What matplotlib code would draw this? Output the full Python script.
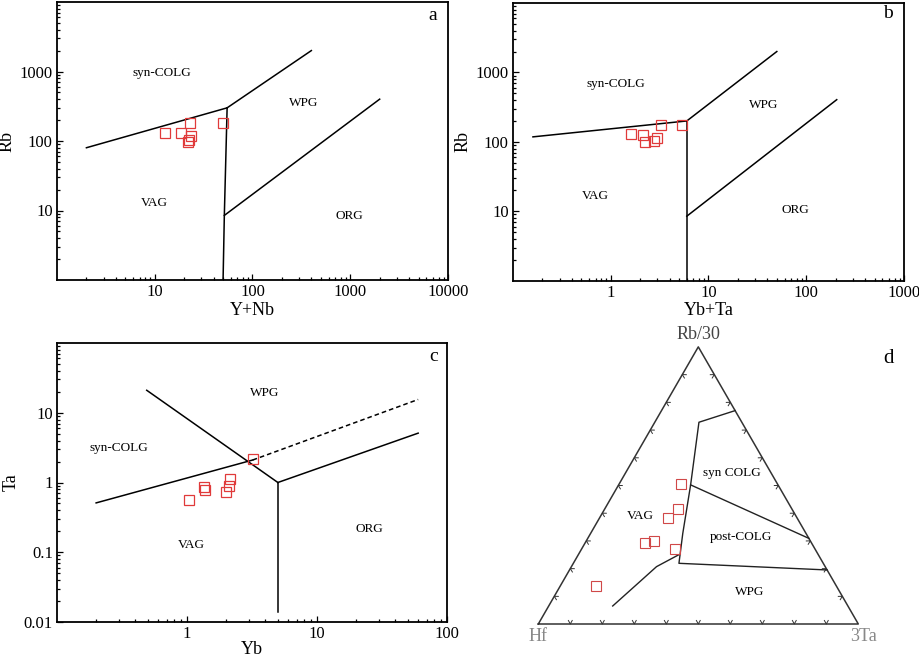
import numpy as np
import matplotlib
matplotlib.use("Agg")
import matplotlib.pyplot as plt
from matplotlib.ticker import FixedLocator, FuncFormatter, LogLocator, NullFormatter

plt.rcParams['font.family'] = ['Liberation Serif', 'DejaVu Serif']

# ---- panel a: Rb vs Y+Nb
a_x = [12.8, 18.7, 23.1, 23.7, 21.9, 22.5, 49.4]
a_y = [131, 129, 179, 118, 98, 103, 179]
a_lines = [
    ([2, 55], [80, 300]),
    ([55, 400], [300, 2000]),
    ([55, 51.5, 50], [300, 8.5, 1]),
    ([51.5, 2000], [8.5, 400]),
]

# ---- panel b: Rb vs Yb+Ta
b_x = [1.6, 2.15, 3.26, 2.99, 2.24, 2.77, 5.4]
b_y = [131, 127, 173, 115, 98, 102, 177]
b_lines = [
    ([0.16, 6], [118, 200]),
    ([6, 50], [200, 2000]),
    ([6, 6], [200, 1]),
    ([6, 205], [8.5, 405]),
]

# ---- panel c: Ta vs Yb
c_x = [1.04, 1.35, 1.38, 2.01, 2.11, 2.16, 3.23]
c_y = [0.56, 0.875, 0.78, 0.72, 0.9, 1.12, 2.17]
c_lines = [
    ([0.2, 3.2], [0.51, 2.1]),
    ([0.49, 5], [21, 1]),
    ([5, 5], [1, 0.014]),
    ([5, 60], [1, 5.1]),
]
c_dashed = ([3.2, 60], [2.1, 15.5])

# ---- panel d: Hf - Rb/30 - 3Ta ternary (fractions)
d_hf = [0.302, 0.358, 0.403, 0.519, 0.488, 0.439, 0.751]
d_rb = [0.505, 0.414, 0.381, 0.294, 0.301, 0.269, 0.137]
d_ta = [0.193, 0.228, 0.216, 0.187, 0.211, 0.292, 0.112]
d_lines = [
    # (hf, rb, ta) vertices of each boundary
    [(0.0, 0.770, 0.230), (0.134, 0.728, 0.138), (0.273, 0.502, 0.225),
     (0.385, 0.327, 0.288), (0.451, 0.219, 0.330), (0.0, 0.195, 0.805)],
    [(0.273, 0.502, 0.225), (0.0, 0.309, 0.691)],
    [(0.735, 0.065, 0.200), (0.606, 0.153, 0.241), (0.527, 0.207, 0.266),
     (0.438, 0.249, 0.313)],
]

red = '#e03a3a'
mk = dict(marker='s', ms=7, mfc='none', mec=red, mew=0.9, ls='none')
fs_tick = 12
fs_lab = 13
fs_reg = 9.5


def style_log(ax, xlim, ylim, xmaj, ymaj):
    ax.set_xscale('log')
    ax.set_yscale('log')
    ax.set_xlim(*xlim)
    ax.set_ylim(*ylim)
    fmt = FuncFormatter(lambda v, p: ('%g' % v))
    ax.xaxis.set_major_locator(FixedLocator(xmaj))
    ax.yaxis.set_major_locator(FixedLocator(ymaj))
    ax.xaxis.set_major_formatter(fmt)
    ax.yaxis.set_major_formatter(fmt)
    ax.xaxis.set_minor_locator(LogLocator(subs=np.arange(2, 10)))
    ax.yaxis.set_minor_locator(LogLocator(subs=np.arange(2, 10)))
    ax.xaxis.set_minor_formatter(NullFormatter())
    ax.yaxis.set_minor_formatter(NullFormatter())
    ax.tick_params(which='both', direction='in', top=False, right=False,
                   labelsize=fs_tick, width=0.9)
    ax.tick_params(which='major', length=4.5, pad=3)
    ax.tick_params(which='minor', length=2.5)
    for s in ax.spines.values():
        s.set_linewidth(1.3)


fig = plt.figure(figsize=(9.2, 6.57), dpi=100)

# panel a
ax = fig.add_axes([57/920, 1-280/657, 391/920, 278/657])
style_log(ax, (1, 10000), (1, 10000), [10, 100, 1000, 10000], [10, 100, 1000])
for xs, ys in a_lines:
    ax.plot(xs, ys, color='black', lw=1.1)
ax.plot(a_x, a_y, **mk)
ax.set_xlabel('Y+Nb', fontsize=fs_lab, labelpad=1)
ax.set_ylabel('Rb', fontsize=fs_lab, labelpad=3)
for t, x, y in [('syn-COLG', 0.269, 0.746), ('WPG', 0.630, 0.636),
                ('VAG', 0.248, 0.276), ('ORG', 0.747, 0.230)]:
    ax.text(x, y, t, transform=ax.transAxes, fontsize=fs_reg, ha='center', va='center')
ax.text(0.962, 0.953, 'a', transform=ax.transAxes, fontsize=14, ha='center', va='center')

# panel b
ax = fig.add_axes([513/920, 1-280.7/657, 391/920, 277.7/657])
style_log(ax, (0.1, 1000), (1, 10000), [1, 10, 100, 1000], [10, 100, 1000])
for xs, ys in b_lines:
    ax.plot(xs, ys, color='black', lw=1.1)
ax.plot(b_x, b_y, **mk)
ax.set_xlabel('Yb+Ta', fontsize=fs_lab, labelpad=1)
ax.set_ylabel('Rb', fontsize=fs_lab, labelpad=3)
for t, x, y in [('syn-COLG', 0.263, 0.708), ('WPG', 0.640, 0.633),
                ('VAG', 0.210, 0.305), ('ORG', 0.721, 0.254)]:
    ax.text(x, y, t, transform=ax.transAxes, fontsize=fs_reg, ha='center', va='center')
ax.text(0.960, 0.961, 'b', transform=ax.transAxes, fontsize=14, ha='center', va='center')

# panel c
ax = fig.add_axes([57/920, 1-622/657, 390/920, 279/657])
style_log(ax, (0.1, 100), (0.01, 100), [1, 10, 100], [0.01, 0.1, 1, 10])
for xs, ys in c_lines:
    ax.plot(xs, ys, color='black', lw=1.1)
ax.plot(c_dashed[0], c_dashed[1], color='black', lw=1.1, ls=(0, (3, 2)))
ax.plot(c_x, c_y, **mk)
ax.set_xlabel('Yb', fontsize=fs_lab, labelpad=-1)
ax.set_ylabel('Ta', fontsize=fs_lab, labelpad=3)
for t, x, y in [('WPG', 0.533, 0.820), ('syn-COLG', 0.159, 0.625),
                ('VAG', 0.345, 0.276), ('ORG', 0.801, 0.334)]:
    ax.text(x, y, t, transform=ax.transAxes, fontsize=fs_reg, ha='center', va='center')
ax.text(0.965, 0.953, 'c', transform=ax.transAxes, fontsize=14, ha='center', va='center')

# panel d (ternary)
h3 = np.sqrt(3) / 2


def tern(hf, rb, ta):
    hf, rb, ta = np.asarray(hf), np.asarray(rb), np.asarray(ta)
    s = hf + rb + ta
    return (ta + rb / 2) / s, rb * h3 / s


ax = fig.add_axes([520/920, 1-640/657, 380/920, 310/657])
ax.set_xlim(-0.0572, 1.1303)
ax.set_ylim(-0.05, 0.91875)
ax.axis('off')
verts = np.array([[0, 0], [1, 0], [0.5, h3], [0, 0]])
ax.plot(verts[:, 0], verts[:, 1], color='#333333', lw=1.1)

# edge ticks (chevrons pointing outward)
edges = [((0, 0), (1, 0)), ((1, 0), (0.5, h3)), ((0.5, h3), (0, 0))]
cx, cy = 0.5, h3 / 3
for p0, p1 in edges:
    p0, p1 = np.array(p0), np.array(p1)
    tvec = (p1 - p0) / np.linalg.norm(p1 - p0)
    mid = (p0 + p1) / 2
    nvec = np.array([-tvec[1], tvec[0]])
    if np.dot(nvec, mid - np.array([cx, cy])) < 0:
        nvec = -nvec
    for f in np.arange(1, 10) / 10:
        p = p0 + (p1 - p0) * f
        a1 = p - nvec * 0.011 - tvec * 0.006
        a2 = p - nvec * 0.011 + tvec * 0.006
        ax.plot([a1[0], p[0], a2[0]], [a1[1], p[1], a2[1]], color='#333333', lw=0.7)

for line in d_lines:
    arr = np.array(line)
    x, y = tern(arr[:, 0], arr[:, 1], arr[:, 2])
    ax.plot(x, y, color='#222222', lw=1.0)

px, py = tern(d_hf, d_rb, d_ta)
ax.plot(px, py, marker='s', ms=7, mfc='none', mec='#d04848', mew=0.8, ls='none')

ax.text(0.5, h3 + 0.012, 'Rb/30', fontsize=fs_lab, ha='center', va='bottom', color='#444444')
ax.text(0.0, -0.012, 'Hf', fontsize=fs_lab, ha='center', va='top', color='#888888')
ax.text(1.015, -0.012, '3Ta', fontsize=fs_lab, ha='center', va='top', color='#888888')
ax.text(1.093, 0.83, 'd', fontsize=15, ha='center', va='center')
for t, xp, yp in [('syn COLG', 731.7, 473.3), ('VAG', 640, 516),
                  ('post-COLG', 741, 537), ('WPG', 750, 592)]:
    ax.text((xp - 538.3) / 320, (624 - yp) / 320, t, fontsize=fs_reg,
            ha='center', va='center')

fig.savefig('out.png', dpi=100)
